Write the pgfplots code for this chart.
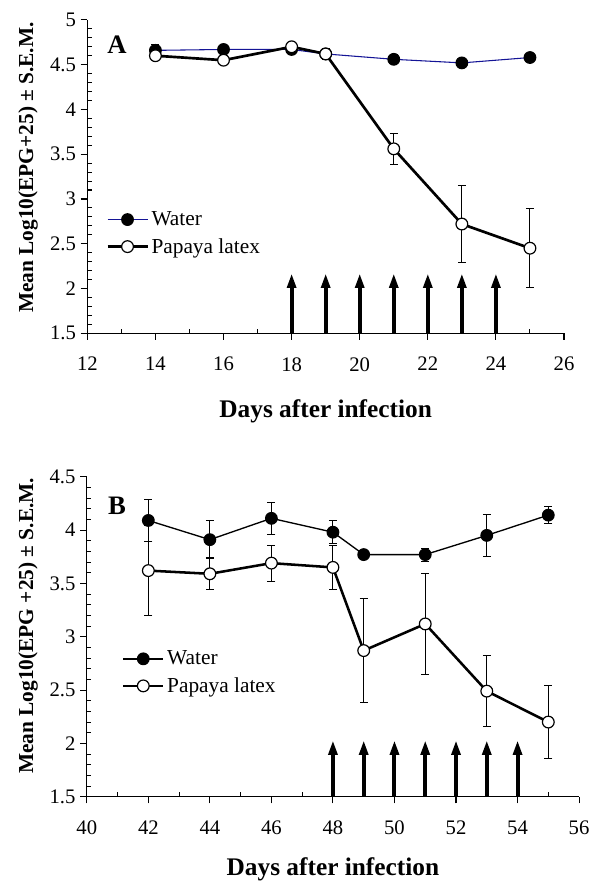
\documentclass[border=0pt]{standalone}
\usepackage{fontspec}
\setmainfont{Liberation Serif}
\usepackage{pgfplots}
\usepackage{pgfplotstable}
\pgfplotsset{compat=1.18}
\usetikzlibrary{arrows.meta}
\definecolor{waterblue}{RGB}{20,20,150}

\pgfplotstableread{
x y e
14 4.66 0.07
16 4.67 0.03
18 4.67 0.05
19 4.62 0.06
21 4.56 0.05
23 4.52 0.03
25 4.58 0.04
}\waterA
\pgfplotstableread{
x y e
14 4.60 0.04
16 4.55 0.02
18 4.70 0.03
19 4.62 0.05
21 3.56 0.17
23 2.72 0.43
25 2.45 0.44
}\papayaA
\pgfplotstableread{
x y e
42 4.09 0.20
44 3.91 0.18
46 4.11 0.15
48 3.98 0.11
49 3.77 0.02
51 3.77 0.06
53 3.95 0.20
55 4.14 0.08
}\waterB
\pgfplotstableread{
x y e
42 3.62 0.42
44 3.59 0.15
46 3.69 0.17
48 3.65 0.21
49 2.87 0.49
51 3.12 0.47
53 2.49 0.33
55 2.20 0.34
}\papayaB
\pgfplotstableread{
x y v
18 1.5 0.67
19 1.5 0.67
20 1.5 0.67
21 1.5 0.67
22 1.5 0.67
23 1.5 0.67
24 1.5 0.67
}\arrowsA
\pgfplotstableread{
x y v
48 1.5 0.53
49 1.5 0.53
50 1.5 0.53
51 1.5 0.53
52 1.5 0.53
53 1.5 0.53
54 1.5 0.53
}\arrowsB

\pgfplotsset{
 mystyle/.style={
  scale only axis,
  axis lines=left,
  axis line style={-, line width=0.8pt, black},
  tick align=outside,
  major tick length=5pt,
  minor tick length=3.5pt,
  minor x tick style={yshift=3.5pt},
  minor y tick style={xshift=3.5pt},
  tick style={black, line width=0.8pt},
  minor x tick num=1,
  minor y tick num=4,
  /pgf/number format/assume math mode=true,
  tick label style={font=\fontsize{15.5}{17}\selectfont},
  xticklabel style={yshift=-9.5pt},
  xlabel style={font=\bfseries\fontsize{19}{21}\selectfont, anchor=center},
  ylabel style={font=\bfseries\fontsize{16}{18}\selectfont, anchor=center},
  legend cell align=left,
  legend image code/.code={\draw[mark repeat=2,mark phase=2,##1] plot coordinates {(0pt,0pt) (15pt,0pt) (30pt,0pt)};},
  legend style={draw=none, fill=none, font=\fontsize{16}{18}\selectfont, anchor=west, inner sep=0pt, row sep=4pt},
  clip=false,
 },
 ebars/.style={error bars/.cd, y dir=both, y explicit,
   error bar style={line width=0.7pt, black, solid},
   error mark options={rotate=90, mark size=3pt, line width=0.7pt, black}},
}

\begin{document}
\begin{tikzpicture}
\useasboundingbox (0,0) rectangle (450pt,665.25pt);
\begin{axis}[mystyle,
  at={(65.5pt,415.3pt)}, anchor=south west,
  width=357.5pt, height=235pt,
  xmin=12, xmax=26, ymin=1.5, ymax=5,
  xtick={12,14,...,26}, ytick={1.5,2,2.5,3,3.5,4,4.5,5},
  xlabel={Days after infection},
  ylabel={Mean Log10(EPG+25) ± S.E.M.},
  xlabel style={at={(axis description cs:0.5,-0.25)}},
  ylabel style={at={(axis description cs:-0.1244,0.529)}},
  legend style={at={(axis description cs:0.039,0.319)}},
]
\addplot[waterblue, line width=0.8pt, mark=*, mark size=4.4pt, mark options={fill=black, draw=black, line width=0.8pt}, ebars] table[x=x, y=y, y error=e] {\waterA};
\addlegendentry{Water}
\addplot[black, line width=2pt, mark=*, mark size=4.4pt, mark options={fill=white, draw=black, line width=0.9pt}, ebars] table[x=x, y=y, y error=e] {\papayaA};
\addlegendentry{Papaya latex}
\addplot[forget plot, black, line width=3pt, -{Triangle[length=11pt,width=6.5pt]}, quiver={u=0, v=\thisrow{v}}] table[x=x, y=y] {\arrowsA};
\node[font=\bfseries\fontsize{20}{22}\selectfont] at (axis cs:12.87,4.72) {A};
\end{axis}

\begin{axis}[mystyle,
  at={(65.1pt,67.7pt)}, anchor=south west,
  width=369.2pt, height=240pt,
  xmin=40, xmax=56, ymin=1.5, ymax=4.5,
  xtick={40,42,...,56}, ytick={1.5,2,2.5,3,3.5,4,4.5},
  xlabel={Days after infection},
  ylabel={Mean Log10(EPG +25) ± S.E.M.},
  xlabel style={at={(axis description cs:0.5,-0.228)}},
  ylabel style={at={(axis description cs:-0.1195,0.534)}},
  legend style={at={(axis description cs:0.071,0.388)}},
]
\addplot[black, line width=1pt, mark=*, mark size=4.4pt, mark options={fill=black, draw=black, line width=0.8pt}, ebars] table[x=x, y=y, y error=e] {\waterB};
\addlegendentry{Water}
\addplot[black, line width=1.9pt, mark=*, mark size=4.4pt, mark options={fill=white, draw=black, line width=0.9pt}, ebars] table[x=x, y=y, y error=e] {\papayaB};
\addlegendentry{Papaya latex}
\addplot[forget plot, black, line width=3pt, -{Triangle[length=11pt,width=6.5pt]}, quiver={u=0, v=\thisrow{v}}] table[x=x, y=y] {\arrowsB};
\node[font=\bfseries\fontsize{20}{22}\selectfont] at (axis cs:40.98,4.23) {B};
\end{axis}
\end{tikzpicture}
\end{document}
